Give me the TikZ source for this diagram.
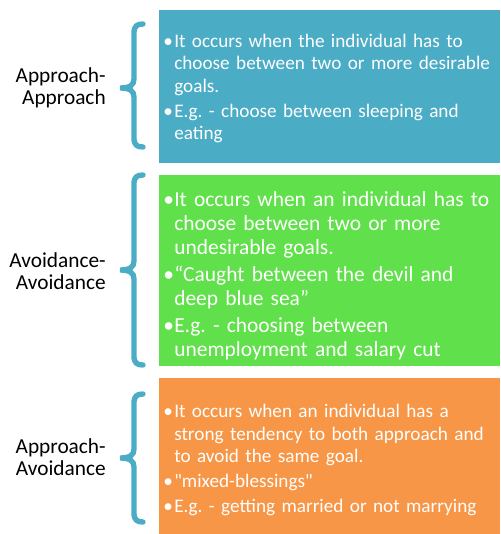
\documentclass[tikz,border=0pt]{standalone}
\usepackage{fontspec}
\setmainfont{Carlito}
\usepackage{xcolor}
\usepackage{tikz}

\definecolor{aquabox}{HTML}{4BACC6}
\definecolor{greenbox}{HTML}{60E04A}
\definecolor{orangebox}{HTML}{F79646}
\newcommand{\bul}{\par\hangindent=8.25pt\hangafter=1\noindent\makebox[8.25pt][l]{\textbullet}}

\begin{document}
\begin{tikzpicture}[x=0.75pt,y=-0.75pt,
    box/.style={rectangle, anchor=north west, text=white, align=left,
        text width=249.75pt, inner xsep=3pt, inner ysep=0pt,
        execute at begin node={\setlength{\parskip}{2pt}\frenchspacing\hyphenpenalty=10000}},
    lbl/.style={anchor=east, align=right, inner sep=0pt, font=\fontsize{16}{16.3}\selectfont},
    brace/.style={aquabox, line width=4pt, line cap=round}]
    \useasboundingbox (0,0) rectangle (500,534);

    % the three boxes
    \node[box, fill=aquabox, minimum height=114.75pt, font=\fontsize{14.4}{16.7}\selectfont]
        (appapp) at (159,10) {\bul It occurs when the individual has to\newline
        choose between two or more desirable\newline goals.
        \bul E.g. - choose between sleeping and\newline eating\par\vspace{6pt}};
    \node[box, fill=greenbox, minimum height=143.25pt, font=\fontsize{16.1}{18.1}\selectfont]
        (avoavo) at (159,175) {\bul It occurs when an individual has to\newline
        choose between two or more\newline undesirable goals.
        \bul “Caught between the devil and\newline deep blue sea”
        \bul E.g. - choosing between\newline unemployment and salary cut\par\vspace{2pt}};
    \node[box, fill=orangebox, minimum height=117pt, font=\fontsize{14.4}{16.7}\selectfont]
        (appavo) at (159,378) {\bul It occurs when an individual has a\newline
        strong tendency to both approach and\newline to avoid the same goal.
        \bul \textquotedbl mixed-blessings\textquotedbl
        \bul E.g. - getting married or not marrying\par\vspace{3pt}};

    % labels
    \node[lbl] (lappapp) at (106,88) {Approach-\\Approach};
    \node[lbl] (lavoavo) at (106,271) {Avoidance-\\Avoidance};
    \node[lbl] (lappavo) at (106,457) {Approach-\\Avoidance};

    % braces
    \foreach \t/\m/\b in {24/88/147, 175/270/365, 394/458/522}
        \draw[brace] (143,\t) .. controls (137,\t) and (134,\t+2) .. (134,\t+9)
            -- (134,\m-9) .. controls (134,\m-3) and (130,\m) .. (120,\m)
            .. controls (130,\m) and (134,\m+3) .. (134,\m+9)
            -- (134,\b-9) .. controls (134,\b-2) and (137,\b) .. (143,\b);
\end{tikzpicture}
\end{document}
